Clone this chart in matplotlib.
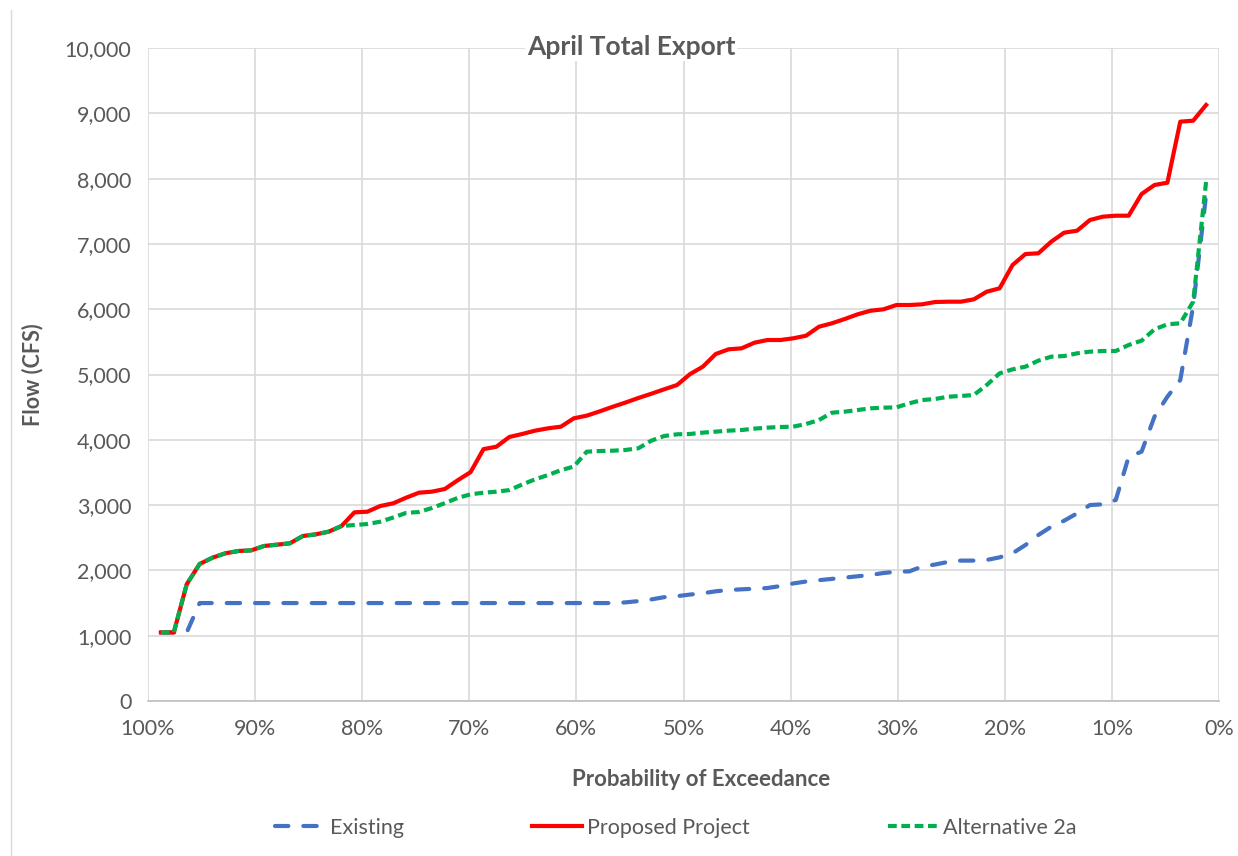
import matplotlib
matplotlib.use("Agg")
import matplotlib.pyplot as plt
from matplotlib.lines import Line2D
from matplotlib.ticker import FuncFormatter, MultipleLocator

# ---------------- data (82 ranked years, ascending) ----------------
n_years = 82
exceedance = [100.0 * (1 - k / (n_years + 1)) for k in range(1, n_years + 1)]

existing = [
    1050, 1050, 1050, 1500, 1500, 1500, 1500, 1500, 1500, 1500,
    1500, 1500, 1500, 1500, 1500, 1500, 1500, 1500, 1500, 1500,
    1500, 1500, 1500, 1500, 1500, 1500, 1500, 1500, 1500, 1500,
    1500, 1500, 1500, 1500, 1500, 1500, 1510, 1530, 1555, 1590,
    1605, 1630, 1650, 1680, 1700, 1710, 1720, 1730, 1760, 1800,
    1830, 1850, 1870, 1890, 1910, 1930, 1960, 1980, 1985, 2060,
    2090, 2130, 2150, 2150, 2160, 2200, 2262, 2389, 2542, 2669,
    2761, 2874, 3001, 3012, 3078, 3741, 3818, 4354, 4660, 4916,
    6050, 7750,
]

proposed = [
    1050, 1050, 1787, 2098, 2195, 2262, 2297, 2307, 2374, 2394,
    2415, 2527, 2552, 2593, 2680, 2889, 2899, 2986, 3027, 3113,
    3190, 3206, 3246, 3380, 3505, 3857, 3894, 4043, 4089, 4140,
    4176, 4201, 4329, 4370, 4435, 4505, 4570, 4640, 4705, 4773,
    4839, 5005, 5120, 5314, 5386, 5401, 5487, 5528, 5528, 5554,
    5594, 5732, 5784, 5850, 5922, 5977, 5998, 6064, 6064, 6075,
    6110, 6115, 6115, 6151, 6268, 6320, 6677, 6845, 6856, 7034,
    7172, 7202, 7366, 7417, 7432, 7432, 7764, 7902, 7937, 8872,
    8887, 9127,
]

alternative_2a = [
    1050, 1050, 1787, 2098, 2195, 2262, 2297, 2307, 2374, 2394,
    2415, 2527, 2552, 2593, 2680, 2695, 2710, 2746, 2810, 2880,
    2895, 2955, 3030, 3110, 3165, 3190, 3205, 3230, 3315, 3395,
    3460, 3535, 3590, 3818, 3828, 3833, 3844, 3870, 3986, 4058,
    4084, 4089, 4110, 4125, 4140, 4150, 4171, 4186, 4196, 4201,
    4242, 4303, 4415, 4431, 4456, 4482, 4492, 4497, 4559, 4609,
    4625, 4660, 4671, 4686, 4839, 5018, 5079, 5120, 5212, 5273,
    5283, 5324, 5350, 5360, 5360, 5452, 5518, 5692, 5768, 5784,
    6115, 7953,
]

series_names = ["Existing", "Proposed Project", "Alternative 2a"]
title = "April Total Export"
x_label = "Probability of Exceedance"
y_label = "Flow (CFS)"

# ---------------- figure ----------------
plt.rcParams["font.family"] = ["Lato", "DejaVu Sans"]
W, H = 1238, 856
fig = plt.figure(figsize=(W / 100, H / 100), dpi=100)
fig.patch.set_facecolor("white")

ax = fig.add_axes([148 / W, (H - 701) / H, 1071 / W, 653 / H])

text_col = "#595959"
grid_col = "#D9D9D9"

styles = [
    dict(color="#4472C4", lw=3.0, linestyle=(0, (3.2, 3.6)), dash_capstyle="round", zorder=3),
    dict(color="#FF0000", lw=3.0, solid_joinstyle="round", zorder=4),
    dict(color="#00B050", lw=3.0, linestyle=(0, (2.1, 1.1)), dash_capstyle="butt", zorder=5),
]
handles = []
for vals, name, st in zip([existing, proposed, alternative_2a], series_names, styles):
    h, = ax.plot(exceedance, vals, label=name, **st)
    handles.append(h)

ax.set_xlim(100, 0)
ax.set_ylim(0, 10000)
ax.xaxis.set_major_locator(MultipleLocator(10))
ax.yaxis.set_major_locator(MultipleLocator(1000))
ax.xaxis.set_major_formatter(FuncFormatter(lambda v, p: f"{v:.0f}%"))
ax.yaxis.set_major_formatter(FuncFormatter(lambda v, p: f"{v:,.0f}"))

ax.grid(True, color=grid_col, lw=1.2, zorder=0)
ax.set_axisbelow(True)
for side in ["top", "right", "left"]:
    ax.spines[side].set_visible(False)
ax.spines["bottom"].set_color("#BFBFBF")
ax.spines["bottom"].set_linewidth(1.2)
ax.tick_params(axis="both", length=0, labelsize=15.5, colors=text_col)
ax.tick_params(axis="x", pad=13)
ax.tick_params(axis="y", pad=12)

fig.text(701 / W, 1 - 780 / H, x_label, ha="center", va="center",
         fontsize=16, fontweight="bold", color=text_col)
fig.text(33 / W, 1 - 375 / H, y_label, ha="center", va="center", rotation=90,
         fontsize=15.5, fontweight="bold", color=text_col)

fig.text(631 / W, 1 - 47 / H, title, ha="center", va="center",
         fontsize=19, fontweight="bold", color=text_col,
         bbox=dict(facecolor="white", edgecolor="none", pad=1.5))

# legend entries placed individually (Excel bottom legend spacing)
for h, x0 in zip(handles, [275, 532, 888]):
    leg = fig.legend([h], [h.get_label()], loc="center left",
                     bbox_to_anchor=(x0 / W, 1 - 828 / H), frameon=False,
                     fontsize=15.5, handlelength=2.3, handletextpad=0.25,
                     borderpad=0, borderaxespad=0)
    for t in leg.get_texts():
        t.set_color(text_col)

# chart-area border line on the left
fig.add_artist(Line2D([11 / W, 11 / W], [0, 1 - 10 / H], color="#D9D9D9", lw=1.0,
                      transform=fig.transFigure))

fig.savefig("out.png", dpi=100, facecolor="white")
